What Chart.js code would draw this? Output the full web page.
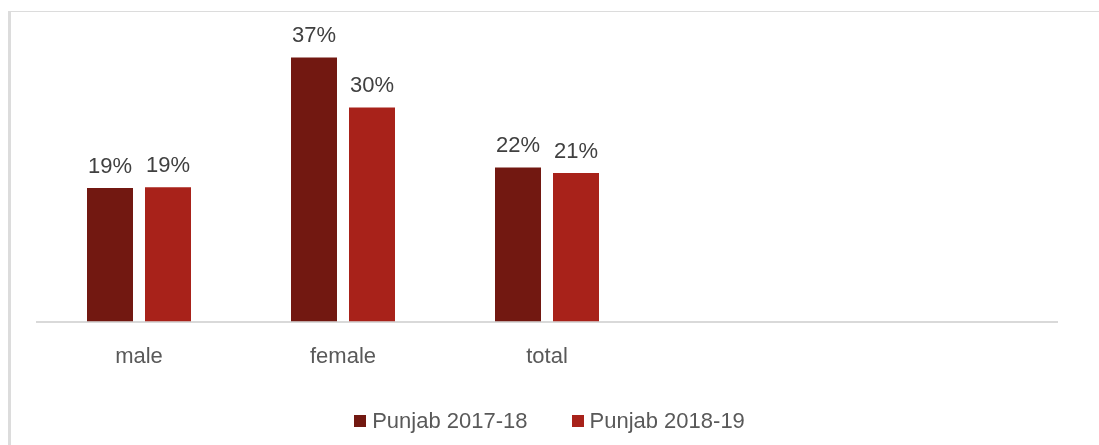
<!DOCTYPE html>
<html>
<head>
<meta charset="utf-8">
<script src="https://cdn.jsdelivr.net/npm/chart.js@4/dist/chart.umd.min.js"></script>
<style>
  html, body { margin: 0; padding: 0; background: #ffffff; }
  body { width: 1099px; height: 445px; overflow: hidden; position: relative; font-family: "Liberation Sans", Arial, sans-serif; }
  #frame { position: absolute; left: 8px; top: 11px; width: 1200px; height: 600px;
           border-left: 3px solid #dcdcdc; border-top: 1px solid #dcdcdc; box-sizing: border-box; }
  #wrap { position: absolute; left: 0; top: 0; width: 1099px; height: 445px; }
  #legend { position: absolute; left: 0; top: 408px; width: 1099px; display: flex; justify-content: center;
            align-items: center; font-size: 22px; color: #595959; line-height: 26px; }
  .item { display: flex; align-items: center; }
  .item + .item { margin-left: 44px; }
  .box { width: 12px; height: 12px; margin-right: 6px; }
</style>
</head>
<body>
<div id="frame"></div>
<div id="wrap"><canvas id="c" width="1099" height="445"></canvas></div>
<div id="legend"></div>
<script>
const categories = ["male", "female", "total", "", ""];
const seriesNames = ["Punjab 2017-18", "Punjab 2018-19"];
const punjab2017_18 = [18.7, 37.0, 21.6, null, null];
const punjab2018_19 = [18.8, 30.0, 20.8, null, null];
const seriesColors = ["#721811", "#A8221A"];

const valueLabels = {
  id: "valueLabels",
  afterDatasetsDraw(chart) {
    const ctx = chart.ctx;
    ctx.save();
    ctx.font = '22px "Liberation Sans", Arial, sans-serif';
    ctx.fillStyle = "#404040";
    ctx.textAlign = "center";
    ctx.textBaseline = "alphabetic";
    chart.data.datasets.forEach((ds, i) => {
      const meta = chart.getDatasetMeta(i);
      meta.data.forEach((el, j) => {
        const v = ds.data[j];
        if (v === null || v === undefined) return;
        ctx.fillText(Math.round(v) + "%", el.x, el.y - 15);
      });
    });
    ctx.restore();
  }
};

new Chart(document.getElementById("c"), {
  type: "bar",
  data: {
    labels: categories,
    datasets: [
      { label: seriesNames[0], data: punjab2017_18, backgroundColor: seriesColors[0] },
      { label: seriesNames[1], data: punjab2018_19, backgroundColor: seriesColors[1] }
    ]
  },
  options: {
    responsive: false,
    devicePixelRatio: 1,
    animation: false,
    datasets: { bar: { categoryPercentage: 116 / 204, barPercentage: 46 / 58 } },
    layout: { padding: { left: 37, right: 42, top: 36, bottom: 53 } },
    plugins: { legend: { display: false }, tooltip: { enabled: false } },
    scales: {
      x: {
        grid: { display: false, drawTicks: false },
        border: { display: true, color: "#d9d9d9", width: 2 },
        ticks: { color: "#595959", padding: 22, font: { size: 22, family: '"Liberation Sans", Arial, sans-serif' } }
      },
      y: { display: false, min: 0, max: 40 }
    }
  },
  plugins: [valueLabels]
});

const legend = document.getElementById("legend");
seriesNames.forEach((name, i) => {
  const item = document.createElement("div");
  item.className = "item";
  const box = document.createElement("span");
  box.className = "box";
  box.style.background = seriesColors[i];
  const txt = document.createElement("span");
  txt.textContent = name;
  item.appendChild(box);
  item.appendChild(txt);
  legend.appendChild(item);
});
</script>
</body>
</html>
